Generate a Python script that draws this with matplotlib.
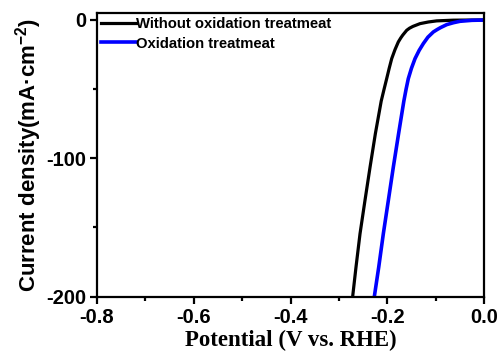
import matplotlib
matplotlib.use("Agg")
from matplotlib import pyplot as plt
from matplotlib.ticker import MultipleLocator

# Without oxidation treatment
pot_raw = [-0.2715, -0.2646, -0.2563, -0.246, -0.2355, -0.2245, -0.2125, -0.2065,
           -0.2012, -0.196, -0.1908, -0.184, -0.1771, -0.172, -0.168, -0.1598,
           -0.154, -0.147, -0.1323, -0.115, -0.0978, -0.0634, 0.0]
cur_raw = [-200, -178.7, -154.6, -130.4, -106.3, -82.1, -58.7, -50.0,
           -42.5, -35.0, -28.0, -21.5, -15.9, -13.0, -11.0, -7.5,
           -6.0, -4.7, -2.7, -1.5, -0.7, -0.2, 0.0]

# Oxidation treatment
pot_ox = [-0.2267, -0.2176, -0.2081, -0.1977, -0.1874, -0.1765, -0.1657, -0.161,
          -0.1565, -0.150, -0.1426, -0.134, -0.1254, -0.116, -0.1047, -0.097,
          -0.09, -0.077, -0.063, -0.0496, -0.025, 0.0]
cur_ox = [-200, -178.7, -154.6, -130.4, -106.3, -82.1, -58.7, -50.0,
          -42.5, -35.0, -28.0, -22.0, -17.1, -12.5, -8.7, -7.0,
          -5.6, -3.4, -2.0, -1.0, -0.3, -0.1]

labels = ["Without oxidation treatmeat", "Oxidation treatmeat"]

plt.rcParams['font.family'] = ['Liberation Sans', 'DejaVu Sans']
plt.rcParams['font.weight'] = 'bold'
plt.rcParams['mathtext.fontset'] = 'custom'
plt.rcParams['mathtext.bf'] = 'Liberation Sans:bold'
plt.rcParams['mathtext.rm'] = 'Liberation Sans:bold'

fig = plt.figure(figsize=(5.0, 3.56), dpi=100)
ax = fig.add_axes([0.194, 0.167, 0.774, 0.7965])

ax.plot(pot_raw, cur_raw, color='black', lw=2.3, label=labels[0], solid_joinstyle='round')
ax.plot(pot_ox, cur_ox, color='#0000ff', lw=2.6, label=labels[1], solid_joinstyle='round')

ax.set_xlim(-0.8, 0.0)
ax.set_ylim(-200, 5)
ax.xaxis.set_minor_locator(MultipleLocator(0.1))
ax.yaxis.set_minor_locator(MultipleLocator(50))
ax.set_xticks([-0.8, -0.6, -0.4, -0.2, 0.0])
ax.set_xticklabels(["-0.8", "-0.6", "-0.4", "-0.2", "0.0"])
ax.set_yticks([-200, -100, 0])
ax.set_yticklabels(["-200", "-100", "0"])

for s in ax.spines.values():
    s.set_linewidth(1.6)
ax.tick_params(which='major', direction='out', length=5, width=1.6, labelsize=14.5, pad=3)
ax.tick_params(which='minor', direction='out', length=3, width=1.6)
for lab in ax.get_xticklabels() + ax.get_yticklabels():
    lab.set_fontweight('bold')

ax.set_xlabel("Potential (V vs. RHE)", family=['Liberation Serif', 'DejaVu Serif'],
              fontsize=16.5, fontweight='bold', labelpad=2)
ax.set_ylabel("Current density(mA·cm$^{\\mathbf{-2}}$)", fontsize=16, fontweight='bold', labelpad=1)

ax.legend(loc='upper left', frameon=False, prop={'weight': 'bold', 'size': 10.7},
          handlelength=2.3, handletextpad=0.0, labelspacing=0.35,
          borderaxespad=0.1, borderpad=0.2)

fig.savefig("out.png", dpi=100)
